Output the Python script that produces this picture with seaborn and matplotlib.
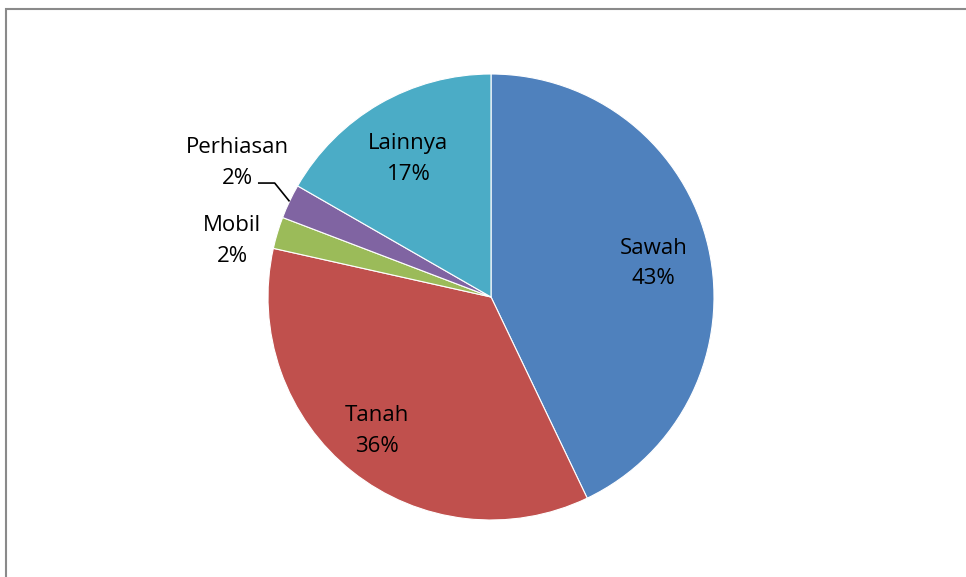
import matplotlib
matplotlib.use("Agg")
import matplotlib.pyplot as plt
import seaborn as sns
import numpy as np
from matplotlib.patches import Rectangle

categories = ["Sawah", "Tanah", "Mobil", "Perhiasan", "Lainnya"]
values = [42.9, 35.6, 2.3, 2.5, 16.7]
pct_labels = ["43%", "36%", "2%", "2%", "17%"]
colors = ["#4F81BD", "#C0504D", "#9BBB59", "#8064A2", "#4BACC6"]

sns.set_theme(style="white")
plt.rcParams['font.family'] = ['Open Sans', 'DejaVu Sans']

W, H = 966, 577
fig = plt.figure(figsize=(W / 100, H / 100), dpi=100)
fig.patch.set_facecolor("white")

cx, cy, r = 491, 297, 223
ax = fig.add_axes([(cx - r) / W, (H - cy - r) / H, 2 * r / W, 2 * r / H])

wedges, _ = ax.pie(values, colors=sns.color_palette(colors), startangle=90,
                   counterclock=False, radius=1,
                   wedgeprops=dict(edgecolor="white", linewidth=0.8))
ax.set_xlim(-1, 1)
ax.set_ylim(-1, 1)
ax.set_aspect("equal")
ax.axis("off")

fs = 16
ls = 1.6
# inside labels
pos_inside = {"Sawah": (0.73, 0.15), "Tanah": (-0.51, -0.60), "Lainnya": (-0.37, 0.62)}
for cat, pct in zip(categories, pct_labels):
    if cat in pos_inside:
        x, y = pos_inside[cat]
        ax.text(x, y, f"{cat}\n{pct}", ha="center", va="center", fontsize=fs,
                color="black", linespacing=ls)

# outside labels
ax.text(-1.16, 0.25, f"Mobil\n{pct_labels[2]}", ha="center", va="center",
        fontsize=fs, color="black", linespacing=ls, clip_on=False)
ax.text(-1.135, 0.60, f"Perhiasan\n{pct_labels[3]}", ha="center", va="center",
        fontsize=fs, color="black", linespacing=ls, clip_on=False)

# leader line for Perhiasan
w = wedges[3]
mid = np.deg2rad((w.theta1 + w.theta2) / 2)
ex, ey = np.cos(mid), np.sin(mid)
ax.plot([-1.045, -0.97, ex], [0.511, 0.511, ey], color="black", lw=1.2,
        clip_on=False, solid_capstyle="butt")

# outer border
fig.patches.append(Rectangle((6 / W, -0.1), 1.2, 1 - 9 / H + 0.1,
                             transform=fig.transFigure, fill=False,
                             edgecolor="#8a8a8a", linewidth=1.5))

fig.savefig("out.png", dpi=100)
